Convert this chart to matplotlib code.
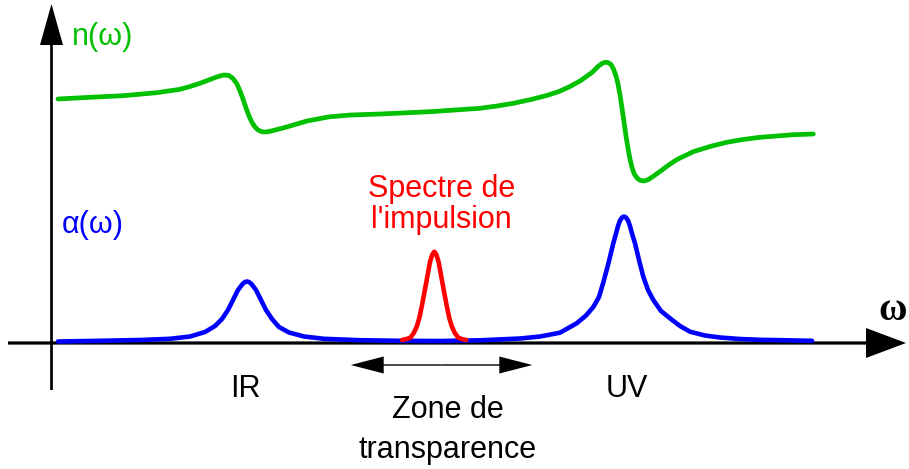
import matplotlib
matplotlib.use("Agg")
import matplotlib.pyplot as plt

plt.rcParams['font.family'] = ['Liberation Sans', 'DejaVu Sans']

# refractive index n(omega) (arbitrary units)
n_x = [7, 39, 72, 105.7, 129, 139, 149, 159, 167, 173, 178, 182, 186, 189, 192, 195,
       198, 201, 204, 207, 211, 215, 219, 225, 232, 239, 256, 279, 300, 329, 379, 429,
       446, 462.3, 480, 495.7, 508, 519, 529, 534, 541, 547, 551, 554, 557, 560,
       562.5, 565, 567, 569, 571, 573, 575, 577, 579, 581, 583, 586, 589, 593, 597,
       602, 609, 617, 626, 642.3, 659, 675.7, 692, 709, 742.3, 762.3]
n_y = [244, 245.7, 247.3, 250.3, 253.7, 256.5, 259.7, 263.5, 266.5, 268, 267.5, 264.5,
       259, 252, 244, 235, 227, 220.5, 216, 213, 211.2, 211, 211.7, 213.2, 215, 217,
       222, 226.3, 228, 229, 231.3, 234.7, 237, 239.7, 243.5, 247.5, 251.5, 256.5, 262,
       265.5, 270.5, 276.5, 279.5, 280.7, 280.5, 278.5, 274, 267, 259, 248, 235, 221,
       207, 194.5, 184, 175.5, 169.5, 165, 162.7, 162, 163.2, 166.5, 171.5, 177.5,
       183.5, 191.3, 196.5, 200.7, 203.5, 205.7, 208.3, 209]

# absorption alpha(omega)
a_x = [7, 49, 89, 119, 139, 154, 164, 171, 177, 182, 187, 190, 192, 194, 196, 198,
       200, 202, 205, 210, 215, 221, 228, 238, 253, 273, 309, 349, 389, 429, 469,
       489, 509, 525.7, 535, 542.3, 548, 552.3, 557, 562.3, 565, 567, 569, 571, 573,
       575, 577, 579, 581, 584, 588, 592.3, 597, 602.3, 610, 619, 629, 639, 654, 669,
       689, 709, 761]
a_y = [1.5, 2.2, 3, 4.2, 6.5, 11, 17, 24, 33, 43, 53, 57, 59.5, 61, 61.5, 61, 59.5,
       57, 53, 43, 33, 24, 16, 10.5, 6.5, 4.2, 2.8, 2.2, 2, 2.7, 4.5, 6.5, 10.3,
       19.7, 27.5, 36, 46, 60.5, 78, 99.7, 109.5, 117, 122.5, 125.5, 126.5, 125.5,
       122.5, 117, 109.5, 99.7, 83, 66.3, 53, 43, 32, 24.7, 17, 11.3, 7.5, 5.5, 4,
       3.2, 2.2]

# pulse spectrum
p_x = [351, 355, 359.3, 362.8, 365.7, 368.3, 370.7, 373.3, 375.7, 379, 381.3, 383.3,
       385.3, 387.6, 390.9, 393.3, 395.9, 398.3, 400.9, 403.8, 407.3, 411.3, 415.3]
p_y = [3, 3.8, 5.3, 10, 16.3, 25, 36.3, 50, 63, 81, 88.5, 91.3, 88.5, 81, 63, 50,
       36.3, 25, 16.3, 10, 5.3, 3.8, 3]

fig = plt.figure(figsize=(9.09, 4.69), dpi=100)
ax = fig.add_axes([0, 0, 1, 1])
ax.set_xlim(-51, 858)
ax.set_ylim(-126, 343)
ax.set_axis_off()

green = '#00c000'
ax.plot(n_x, n_y, color=green, lw=3.4, solid_capstyle='round', solid_joinstyle='round', zorder=3)
ax.plot(a_x, a_y, color='#0000ff', lw=3.3, solid_capstyle='round', solid_joinstyle='round', zorder=3)
ax.plot(p_x, p_y, color='#ff0000', lw=3.3, solid_capstyle='round', solid_joinstyle='round', zorder=4)

# axes arrows
ax.arrow(0.5, -47, 0, 386, width=2.7, head_width=23, head_length=41,
         length_includes_head=True, fc='k', ec='k', lw=0, zorder=2)
ax.arrow(-43, 0, 898, 0, width=3.2, head_width=30, head_length=40,
         length_includes_head=True, fc='k', ec='k', lw=0, zorder=2)

# transparency zone double arrow
mid = 390.5
for end in (299.7, 481.3):
    ax.arrow(mid, -22, end - mid, 0, width=1.4, head_width=17, head_length=33,
             length_includes_head=True, fc='k', ec='k', lw=0)

fs = 22
ax.text(21, 298, 'n(ω)', color=green, fontsize=fs, ha='left', va='baseline')
ax.text(11, 110, 'α(ω)', color='#0000ff', fontsize=fs, ha='left', va='baseline')
ax.text(390.5, 146.3, 'Spectre de', color='#ff0000', fontsize=fs, ha='center', va='baseline')
ax.text(390, 114.7, "l'impulsion", color='#ff0000', fontsize=fs, ha='center', va='baseline')
ax.text(194, -53.7, 'IR', color='k', fontsize=fs, ha='center', va='baseline')
ax.text(576, -54, 'UV', color='k', fontsize=fs, ha='center', va='baseline')
ax.text(396.5, -75.3, 'Zone de', color='k', fontsize=fs, ha='center', va='baseline')
ax.text(396.5, -115, 'transparence', color='k', fontsize=fs, ha='center', va='baseline')
ax.text(842, 33, 'ω', color='k', fontsize=28, fontweight='bold',
        family=['Liberation Serif', 'DejaVu Serif'], ha='center', va='center')

fig.savefig('out.png', dpi=100)
